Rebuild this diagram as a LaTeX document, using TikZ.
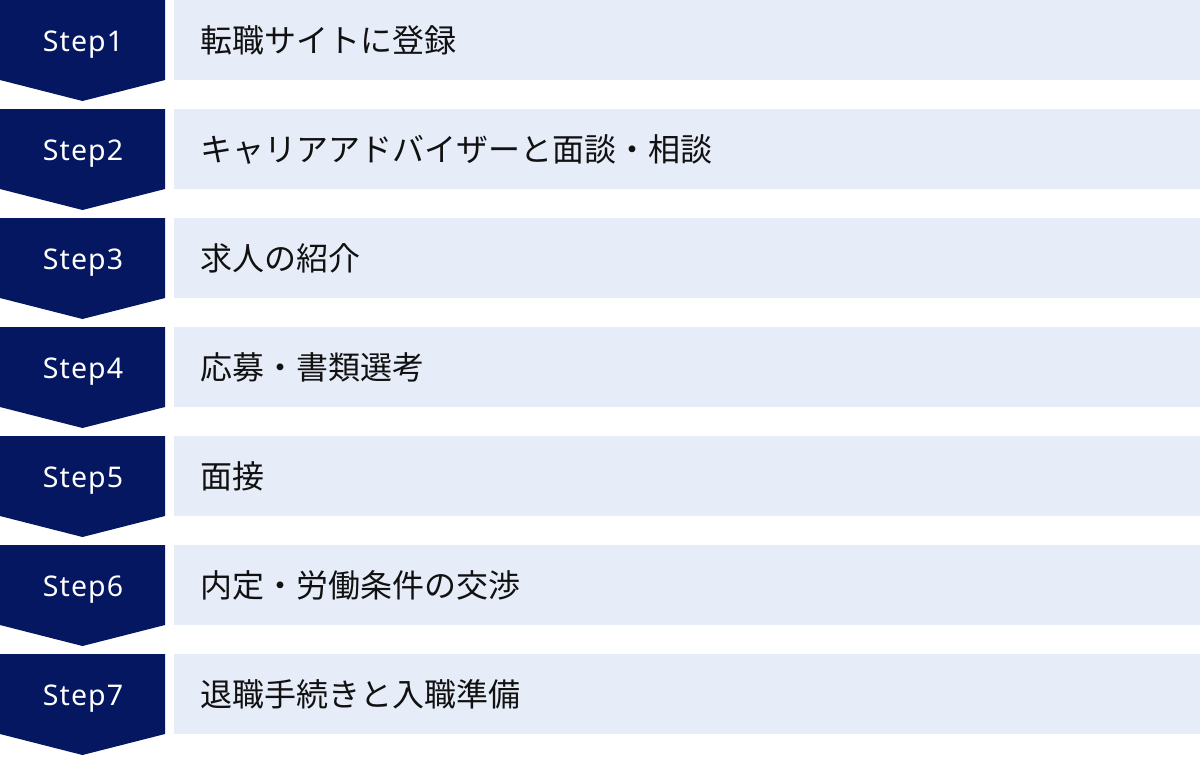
\documentclass[tikz,border=0pt]{standalone}
\usepackage{fontspec}
\setmainfont{Noto Sans CJK JP}
\newfontfamily\stepfont[LetterSpace=4]{Noto Sans}
\definecolor{navy}{HTML}{041760}
\definecolor{barblue}{HTML}{E6ECF8}
\definecolor{txt}{HTML}{111111}
\tikzset{
  badge/.style={fill=navy, draw=none},
  steplabel/.style={text=white, font=\stepfont\fontsize{28.5}{28.5}\selectfont, inner sep=0pt, anchor=base},
  barbox/.style={fill=barblue, draw=none, minimum width=1026pt, minimum height=80pt, inner sep=0pt, anchor=north west},
  bartext/.style={text=txt, font=\fontsize{32}{32}\selectfont, inner sep=0pt, anchor=west},
}
\begin{document}
\begin{tikzpicture}[x=1pt,y=-1pt]
\useasboundingbox (0,0) rectangle (1200,756);
\fill[white] (0,0) rectangle (1200,756);
\foreach \i/\t in {1/転職サイトに登録,2/キャリアアドバイザーと面談・相談,3/求人の紹介,4/応募・書類選考,5/面接,6/内定・労働条件の交渉,7/退職手続きと入職準備}{
  \pgfmathsetmacro{\yy}{(\i-1)*109}
  \path[badge] (0,\yy) -- (165,\yy) -- (165,\yy+80) -- (82.5,\yy+101) -- (0,\yy+80) -- cycle;
  \node[steplabel] (s\i) at (83,\yy+51.5) {Step\i};
  \node[barbox] (b\i) at (174,\yy) {};
  \node[bartext] (t\i) at (200,\yy+40) {\t};
}
\end{tikzpicture}
\end{document}
